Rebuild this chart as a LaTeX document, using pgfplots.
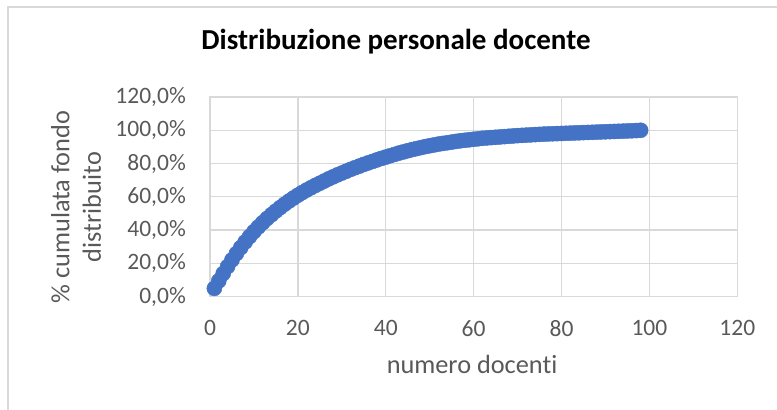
\documentclass[border=0pt]{standalone}
\usepackage{fontspec}
\setmainfont{Carlito}[Ligatures=NoCommon]
\usepackage{pgfplots}
\pgfplotsset{compat=1.18}
\definecolor{serie}{HTML}{4472C4}
\definecolor{griglia}{HTML}{D9D9D9}
\definecolor{testo}{HTML}{595959}
\begin{document}
\begin{tikzpicture}
\useasboundingbox (0,0) rectangle (777bp,410bp);
\draw[griglia, line width=1.5bp] (8bp,0) -- (8bp,403bp) -- (777bp,403bp);
\begin{axis}[
  at={(210bp,113.3bp)}, anchor=south west,
  scale only axis, width=527.3bp, height=199.7bp,
  xmin=0, xmax=120, ymin=0, ymax=120,
  xtick={0,20,40,60,80,100,120},
  xticklabels={0,20,40,60,80,100,120},
  ytick={0,20,40,60,80,100,120},
  yticklabels={{0,0\%},{20,0\%},{40,0\%},{60,0\%},{80,0\%},{100,0\%},{120,0\%}},
  grid=major,
  major grid style={griglia, line width=1.3bp},
  axis line style={griglia, line width=1.3bp},
  tick style={draw=none},
  ticklabel style={font=\fontsize{23.5bp}{28bp}\selectfont, text=testo, inner sep=0pt},
  yticklabel style={anchor=east, xshift=-24bp},
  xticklabel style={anchor=north, yshift=-23.3bp},
  xlabel={numero docenti},
  ylabel={\% cumulata fondo\\distribuito},
  label style={font=\fontsize{26.3bp}{31.6bp}\selectfont, text=testo},
  xlabel style={at={(axis description cs:0.497,-0.387)}, anchor=base},
  ylabel style={at={(axis description cs:-0.254,0.449)}, anchor=center, align=center},
  title={Distribuzione personale docente},
  title style={font=\fontsize{29bp}{34bp}\selectfont\bfseries, text=black, at={(axis description cs:0.3527,1.2103)}, anchor=base},
  clip=false,
]
\addplot[only marks, mark=*, mark size=7.6pt, mark options={fill=serie, draw=serie}] coordinates {
(1,5.0) (2,9.5) (3,13.9) (4,18.1) (5,22.1) (6,25.9) (7,29.5) (8,32.9) (9,36.1) (10,39.1)
(11,41.9) (12,44.5) (13,47.0) (14,49.3) (15,51.5) (16,53.6) (17,55.6) (18,57.5) (19,59.3) (20,61.0)
(21,62.6) (22,64.1) (23,65.5) (24,66.9) (25,68.2) (26,69.5) (27,70.8) (28,72.0) (29,73.2) (30,74.3)
(31,75.4) (32,76.5) (33,77.5) (34,78.5) (35,79.5) (36,80.4) (37,81.3) (38,82.2) (39,83.1) (40,83.9)
(41,84.7) (42,85.5) (43,86.3) (44,87.0) (45,87.7) (46,88.4) (47,89.0) (48,89.6) (49,90.2) (50,90.7)
(51,91.2) (52,91.7) (53,92.1) (54,92.5) (55,92.9) (56,93.3) (57,93.7) (58,94.0) (59,94.3) (60,94.6)
(61,94.9) (62,95.2) (63,95.4) (64,95.6) (65,95.8) (66,96.0) (67,96.2) (68,96.4) (69,96.6) (70,96.8)
(71,96.95) (72,97.1) (73,97.25) (74,97.4) (75,97.55) (76,97.7) (77,97.8) (78,97.9) (79,98.0) (80,98.1)
(81,98.2) (82,98.3) (83,98.4) (84,98.5) (85,98.6) (86,98.7) (87,98.8) (88,98.9) (89,99.0) (90,99.1)
(91,99.2) (92,99.3) (93,99.4) (94,99.5) (95,99.6) (96,99.7) (97,99.85) (98,100.0)
};
\end{axis}
\end{tikzpicture}
\end{document}
